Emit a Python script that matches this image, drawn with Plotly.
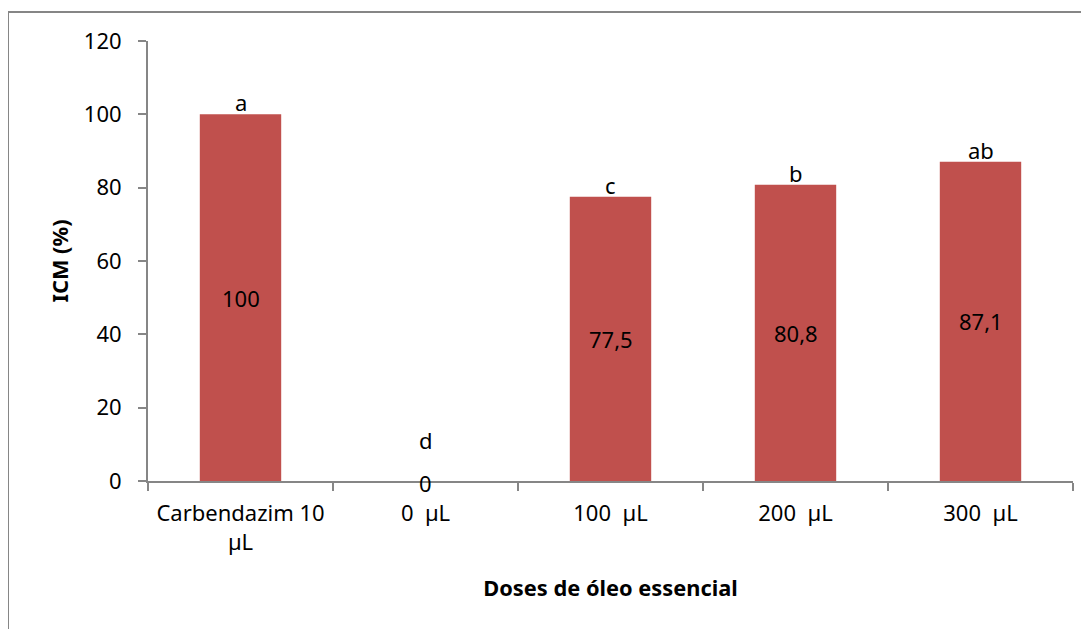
import plotly.graph_objects as go

categories = ["Carbendazim 10<br>µL", "0\u00a0\u00a0µL", "100\u00a0\u00a0µL", "200\u00a0\u00a0µL", "300\u00a0\u00a0µL"]
values = [100, 0, 77.5, 80.8, 87.1]
value_labels = ["100", "0", "77,5", "80,8", "87,1"]
letters = ["a", "d", "c", "b", "ab"]
y_ticks = [0, 20, 40, 60, 80, 100, 120]

FONT = "Noto Sans"
BAR = "#C0504D"
AXIS = "#868686"
FS = 22

fig = go.Figure()
fig.add_trace(go.Bar(
    x=categories, y=values, marker=dict(color=BAR, line=dict(width=0)),
    width=0.44, hoverinfo="skip",
))

for c, v, lab, let in zip(categories, values, value_labels, letters):
    fig.add_annotation(x=c, y=v / 2, text=lab, showarrow=False,
                       font=dict(family=FONT, size=FS, color="black"),
                       yanchor="middle", yshift=(-2 if v == 0 else 0))
    fig.add_annotation(x=c, y=v, text=let, showarrow=False,
                       font=dict(family=FONT, size=FS, color="black"),
                       yanchor="bottom", yshift=(24 if v == 0 else -5))

# outer chart border
fig.add_shape(type="rect", xref="paper", yref="paper",
              x0=(8 - 148) / 925, x1=1.06, y0=-0.4, y1=(481 - 12) / 440,
              line=dict(color=AXIS, width=2), fillcolor="rgba(0,0,0,0)", layer="below")

fig.update_layout(
    width=1089, height=629,
    margin=dict(l=140, r=24, t=33, b=156, autoexpand=False),
    paper_bgcolor="white", plot_bgcolor="white",
    showlegend=False,
    font=dict(family=FONT, size=FS, color="black"),
    xaxis=dict(
        type="category", tickson="boundaries", ticks="outside", ticklen=8,
        tickcolor=AXIS, tickwidth=2, showline=True, linecolor=AXIS, linewidth=2,
        showgrid=False, tickfont=dict(family=FONT, size=FS, color="black"),
        tickangle=0, automargin=False,
        ticklabelstandoff=12,
        title=dict(text="<b>Doses de óleo essencial</b>", font=dict(family=FONT, size=21.8), standoff=26),
    ),
    yaxis=dict(
        range=[0, 120], tickvals=y_ticks, ticks="outside", ticklen=8,
        tickcolor=AXIS, tickwidth=2, showline=True, linecolor=AXIS, linewidth=2,
        showgrid=False, zeroline=False, tickfont=dict(family=FONT, size=FS, color="black"),
        ticklabelstandoff=12, automargin=False,
        title=dict(text="<b>ICM (%)</b>", font=dict(family=FONT, size=21.8), standoff=9),
    ),
)

fig.write_html("out.html")
